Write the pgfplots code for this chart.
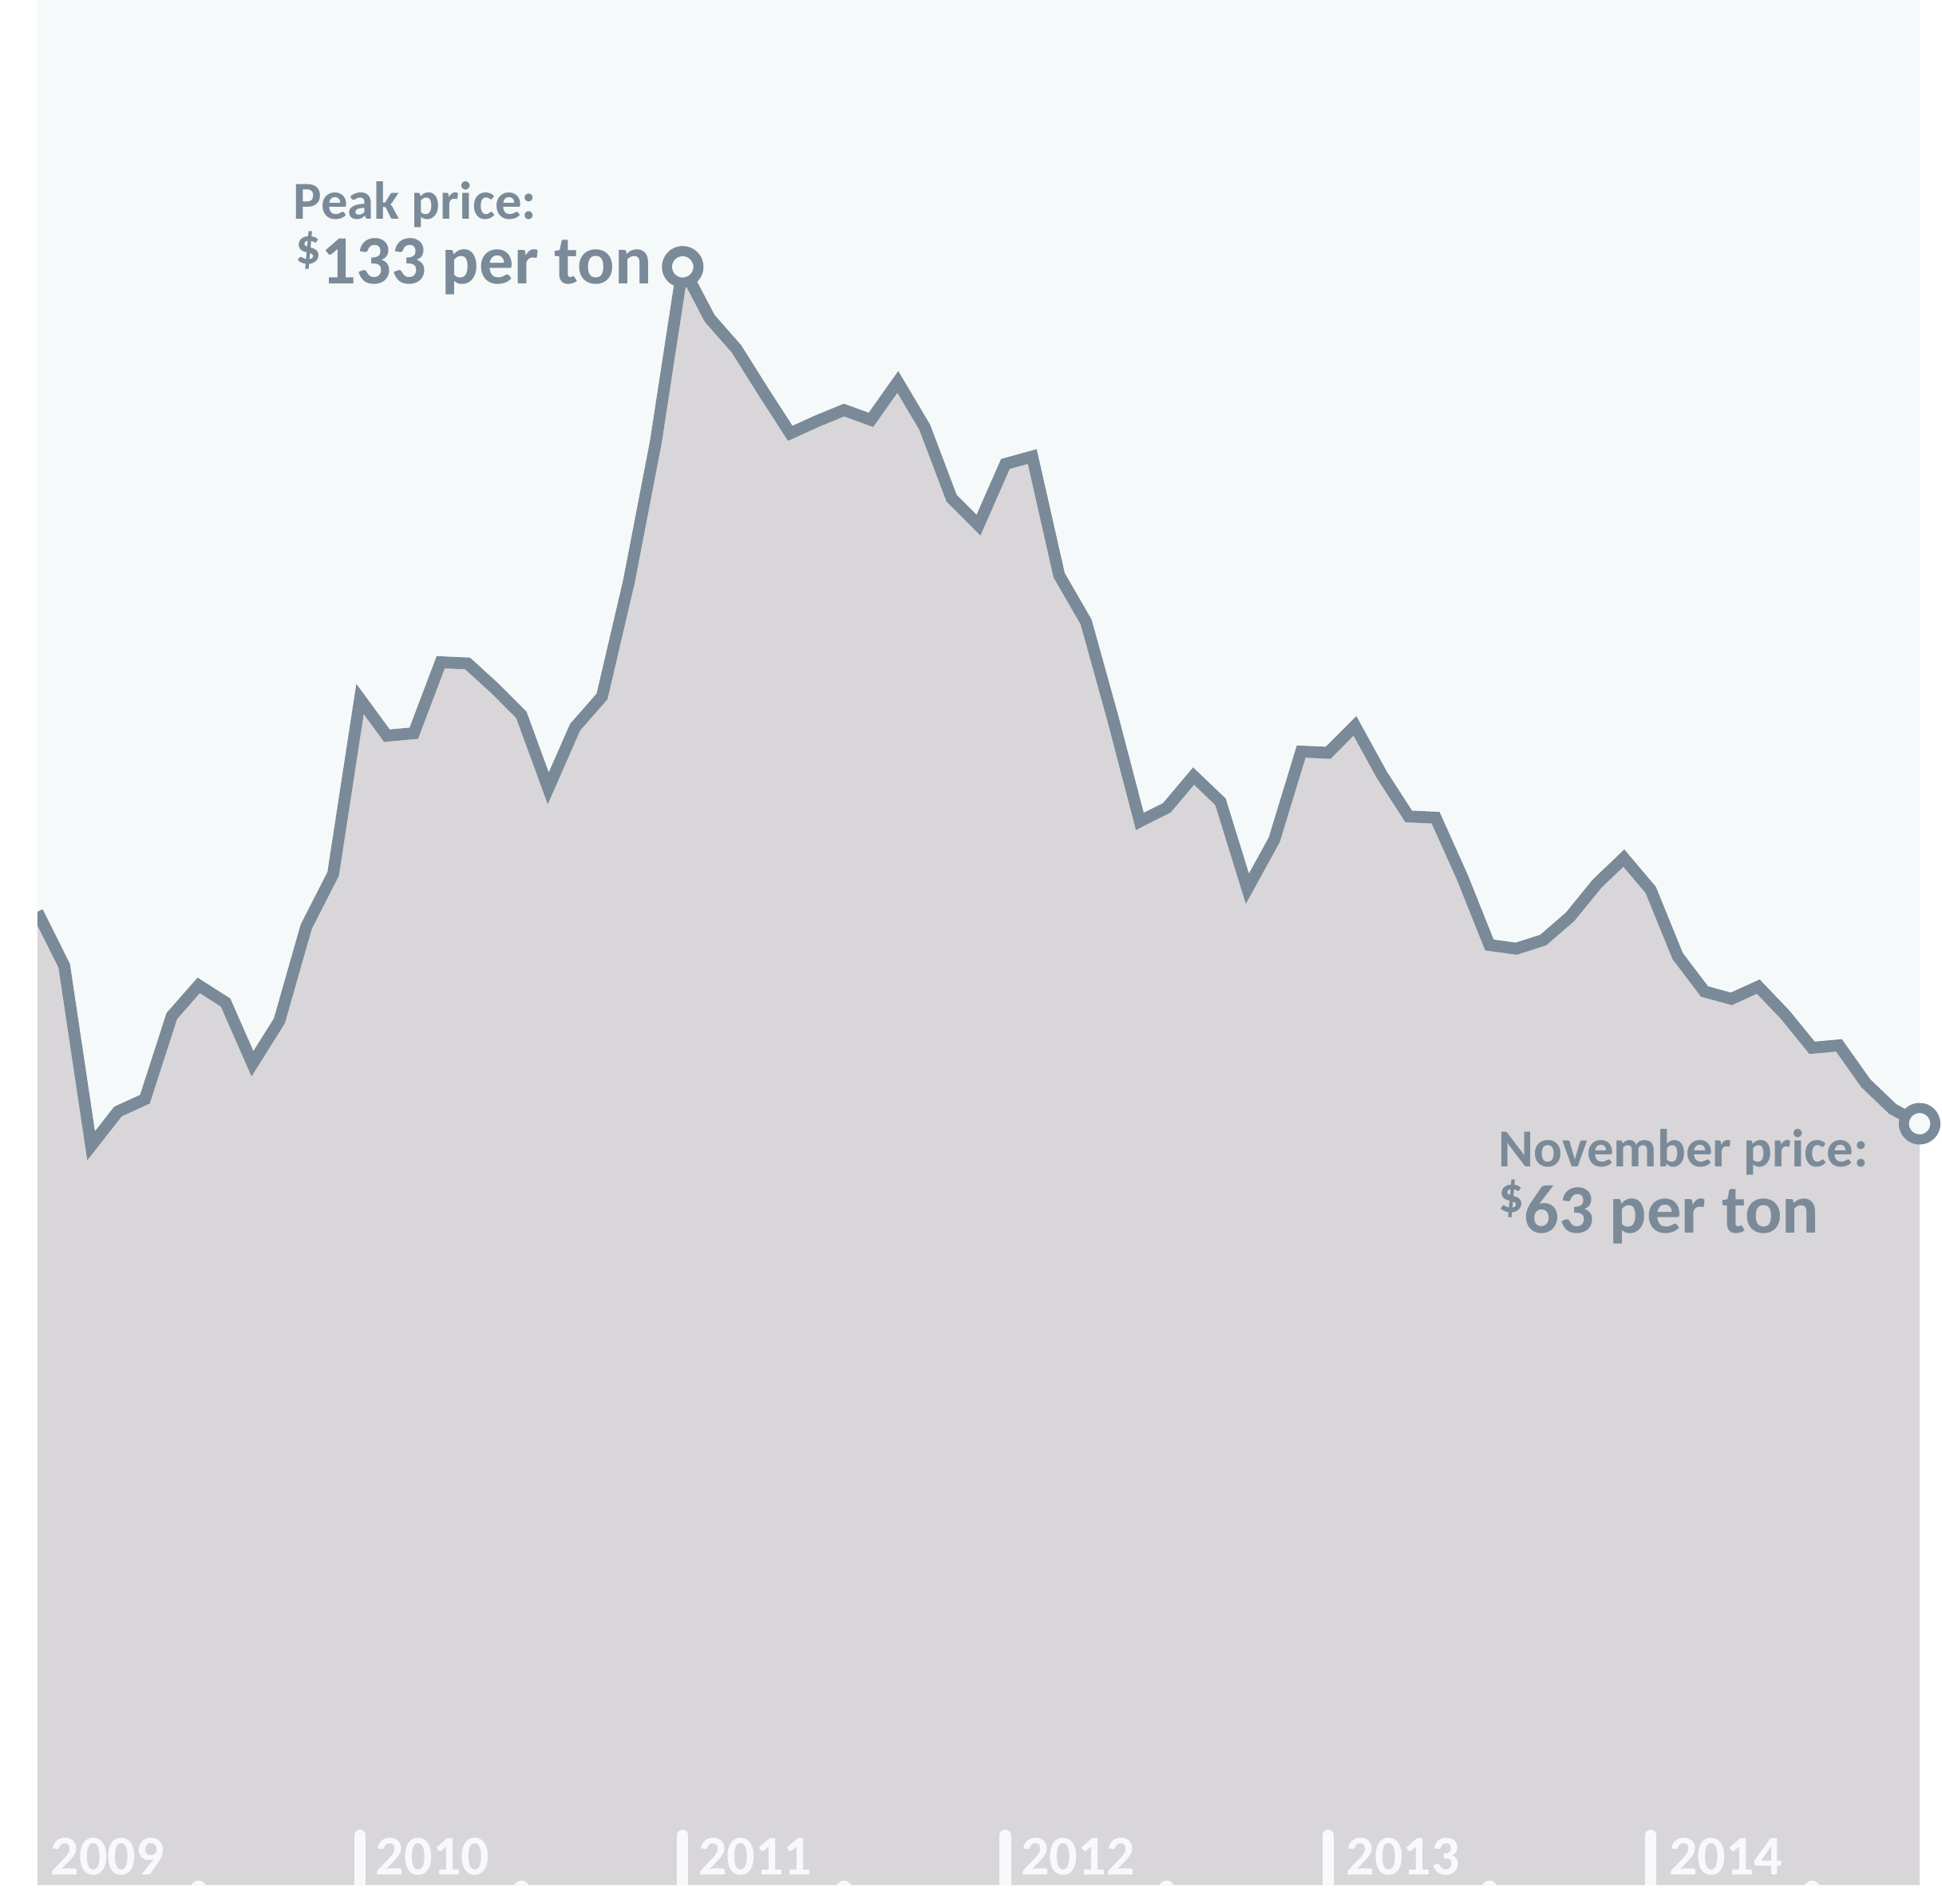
\documentclass[border=0pt]{standalone}
\usepackage{fontspec}
\setmainfont{Carlito}
\usepackage{pgfplots}
\pgfplotsset{compat=1.18}
\usepackage{pgfplotstable}

\definecolor{bgcol}{HTML}{F5F9FA}
\definecolor{areacol}{HTML}{D8D6D9}
\definecolor{linecol}{HTML}{7A8A98}
\definecolor{labcol}{HTML}{F7F9FA}

\tikzset{yearlab/.style={anchor=base west, inner sep=0pt, text=labcol,
    font=\bfseries\fontsize{12.8}{14}\selectfont}}

% monthly price per ton, Jan 2009 (0) to Nov 2014 (70)
\pgfplotstableread{
m price
0 80.3
1 75.9
2 61.2
3 64.0
4 65.0
5 71.8
6 74.3
7 72.9
8 67.9
9 71.4
10 79.1
11 83.4
12 97.7
13 94.7
14 94.9
15 100.7
16 100.6
17 98.6
18 96.4
19 90.4
20 95.4
21 97.9
22 107.3
23 118.7
24 133.0
25 128.8
26 126.3
27 122.8
28 119.4
29 120.4
30 121.3
31 120.5
32 123.6
33 119.9
34 114.1
35 111.9
36 116.9
37 117.5
38 107.8
39 104.0
40 96.1
41 87.7
42 88.8
43 91.4
44 89.3
45 82.2
46 86.2
47 93.4
48 93.3
49 95.5
50 91.5
51 88.1
52 88.0
53 83.1
54 77.6
55 77.3
56 78.0
57 79.9
58 82.6
59 84.7
60 82.1
61 76.7
62 73.8
63 73.2
64 74.2
65 71.9
66 69.2
67 69.4
68 66.3
69 64.2
70 63.0
}\prices

\begin{document}
\begin{tikzpicture}
\path[use as bounding box] (-0.30cm,-0.15cm) rectangle (15.30cm,15.14cm);
\begin{axis}[
    at={(0,0)}, anchor=south west,
    scale only axis,
    width=15.12cm, height=15.14cm,
    xmin=0, xmax=70,
    ymin=0.8, ymax=154.8,
    axis line style={draw=none},
    ticks=none,
    axis background/.style={fill=bgcol},
  ]
  \addplot[fill=areacol, draw=none] table[x=m, y=price] {\prices} \closedcycle;
  \addplot[linecol, line width=2.7pt, line join=miter] table[x=m, y=price] {\prices};
  \addplot[only marks, mark=*, mark size=3.6pt,
    mark options={fill=bgcol, draw=linecol, line width=2.3pt}]
    coordinates {(24,133.0) (70,63.0)};

  % year ticks and half-year dots
  \pgfplotsinvokeforeach{12,24,36,48,60}{
    \draw[labcol, line width=2.6pt, line cap=round] (axis cs:#1,0.8) -- ([yshift=0.40cm]axis cs:#1,0.8);
  }
  \pgfplotsinvokeforeach{6,18,30,42,54,66}{
    \fill[labcol] ([xshift=-0.065cm]axis cs:#1,0.8) -- ++(0,0.05cm) arc(180:0:0.065cm) -- ++(0,-0.05cm) -- cycle;
  }
  \node[yearlab] at ([xshift=0.10cm, yshift=0.08cm]axis cs:0,0.8) {2009};
  \node[yearlab] at ([xshift=0.12cm, yshift=0.08cm]axis cs:12,0.8) {2010};
  \node[yearlab] at ([xshift=0.12cm, yshift=0.08cm]axis cs:24,0.8) {2011};
  \node[yearlab] at ([xshift=0.12cm, yshift=0.08cm]axis cs:36,0.8) {2012};
  \node[yearlab] at ([xshift=0.14cm, yshift=0.08cm]axis cs:48,0.8) {2013};
  \node[yearlab] at ([xshift=0.14cm, yshift=0.08cm]axis cs:60,0.8) {2014};

  % annotations
  \node[anchor=base west, inner sep=0pt, text=linecol, font=\bfseries\fontsize{12.2}{14}\selectfont]
    at (rel axis cs:0.1356,0.8837) {Peak price:};
  \node[anchor=base west, inner sep=0pt, text=linecol, font=\bfseries]
    at (rel axis cs:0.1369,0.8494) {\raisebox{4.6pt}{\fontsize{11.5}{12}\selectfont\$}\fontsize{15.8}{18}\selectfont 133 per ton};
  \node[anchor=base west, inner sep=0pt, text=linecol, font=\bfseries\fontsize{12.2}{14}\selectfont]
    at (rel axis cs:0.7758,0.3811) {November price:};
  \node[anchor=base west, inner sep=0pt, text=linecol, font=\bfseries]
    at (rel axis cs:0.7758,0.3461) {\raisebox{4.6pt}{\fontsize{11.5}{12}\selectfont\$}\fontsize{15.8}{18}\selectfont 63 per ton};
\end{axis}
\end{tikzpicture}
\end{document}
